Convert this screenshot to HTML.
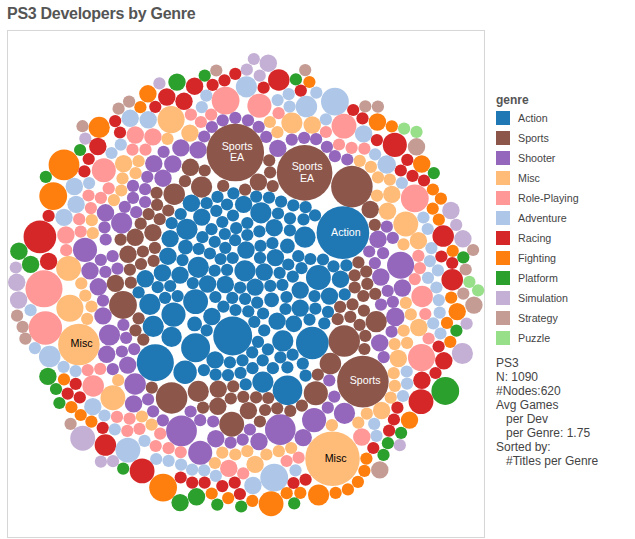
<!DOCTYPE html>
<html><head><meta charset="utf-8"><title>PS3 Developers by Genre</title>
<style>
html,body{margin:0;padding:0;background:#fff;}
body{width:635px;height:539px;position:relative;overflow:hidden;font-family:"Liberation Sans",sans-serif;}
#title{position:absolute;left:7px;top:5px;font-size:16px;font-weight:bold;color:#555;letter-spacing:-0.28px;white-space:nowrap;}
#frame{position:absolute;left:7px;top:30px;width:476px;height:506px;border:1px solid #d6d6d6;box-sizing:content-box;}
svg{position:absolute;left:0;top:0;}
svg text{font-family:"Liberation Sans",sans-serif;font-size:10.7px;}
#lt{position:absolute;left:496px;top:93px;font-size:12px;font-weight:bold;color:#555;}
.sw{position:absolute;left:496px;width:14px;height:14px;}
.ll{position:absolute;left:518px;font-size:10.7px;color:#444;line-height:15px;white-space:nowrap;}
#info{position:absolute;left:496px;top:356px;font-size:12px;line-height:14px;color:#444;white-space:pre;}
</style></head><body>
<div id="title">PS3 Developers by Genre</div>
<div id="frame"></div>
<svg width="635" height="539" viewBox="0 0 635 539">
<g>
<circle cx="214.7" cy="241.8" r="6.1" fill="#1f77b4"/>
<circle cx="235.1" cy="240.2" r="6.1" fill="#1f77b4"/>
<circle cx="185.1" cy="372.2" r="11.7" fill="#1f77b4"/>
<circle cx="99.2" cy="127.4" r="10.6" fill="#ff7f0e"/>
<circle cx="82.5" cy="126.2" r="6.1" fill="#c49c94"/>
<circle cx="85.3" cy="138.6" r="6.1" fill="#c5b0d5"/>
<circle cx="103.8" cy="170.2" r="12.0" fill="#ff9896"/>
<circle cx="280.3" cy="429.6" r="15.3" fill="#9467bd"/>
<circle cx="452.2" cy="279.7" r="10.8" fill="#d62728"/>
<circle cx="290.3" cy="410.9" r="6.1" fill="#8c564b"/>
<circle cx="198.1" cy="149.9" r="8.7" fill="#9467bd"/>
<circle cx="177.0" cy="82.1" r="8.72" fill="#2ca02c"/>
<circle cx="159.4" cy="83.4" r="6.12" fill="#c5b0d5"/>
<circle cx="147.9" cy="93.8" r="8.72" fill="#ff7f0e"/>
<circle cx="166.8" cy="97.0" r="8.72" fill="#d62728"/>
<circle cx="184.0" cy="101.3" r="8.72" fill="#d62728"/>
<circle cx="194.6" cy="86.2" r="8.72" fill="#d62728"/>
<circle cx="129.1" cy="101.6" r="6.12" fill="#c49c94"/>
<circle cx="118.6" cy="108.7" r="6.12" fill="#c49c94"/>
<circle cx="140.4" cy="107.2" r="6.12" fill="#ff7f0e"/>
<circle cx="155.3" cy="106.8" r="6.12" fill="#d62728"/>
<circle cx="130.2" cy="118.3" r="8.72" fill="#aec7e8"/>
<circle cx="148.2" cy="119.8" r="8.72" fill="#aec7e8"/>
<circle cx="171.1" cy="119.6" r="13.54" fill="#ffbb78"/>
<circle cx="115.2" cy="121.1" r="6.12" fill="#d62728"/>
<circle cx="120.0" cy="132.5" r="6.12" fill="#d62728"/>
<circle cx="135.3" cy="135.0" r="8.72" fill="#ff9896"/>
<circle cx="152.9" cy="136.9" r="8.72" fill="#ff9896"/>
<circle cx="190.9" cy="114.6" r="6.12" fill="#ff9896"/>
<circle cx="189.9" cy="133.1" r="8.72" fill="#ffbb78"/>
<circle cx="167.5" cy="138.8" r="6.12" fill="#ffbb78"/>
<circle cx="64.0" cy="164.9" r="15.4" fill="#ff7f0e"/>
<circle cx="80.1" cy="150.0" r="6.12" fill="#2ca02c"/>
<circle cx="45.8" cy="176.9" r="6.12" fill="#2ca02c"/>
<circle cx="88.7" cy="159.0" r="6.12" fill="#d62728"/>
<circle cx="84.4" cy="171.4" r="6.12" fill="#d62728"/>
<circle cx="97.8" cy="146.5" r="8.72" fill="#d62728"/>
<circle cx="53.2" cy="196.1" r="13.91" fill="#ff7f0e"/>
<circle cx="74.3" cy="186.5" r="8.72" fill="#aec7e8"/>
<circle cx="89.1" cy="183.1" r="6.12" fill="#aec7e8"/>
<circle cx="76.1" cy="204.4" r="8.72" fill="#aec7e8"/>
<circle cx="64.0" cy="217.4" r="8.72" fill="#aec7e8"/>
<circle cx="48.6" cy="215.9" r="6.12" fill="#d62728"/>
<circle cx="39.9" cy="236.9" r="16.33" fill="#d62728"/>
<circle cx="88.5" cy="195.5" r="6.12" fill="#ff9896"/>
<circle cx="90.9" cy="208.1" r="6.12" fill="#ff9896"/>
<circle cx="79.2" cy="219.2" r="6.12" fill="#ff9896"/>
<circle cx="91.8" cy="220.2" r="6.12" fill="#ffbb78"/>
<circle cx="65.9" cy="235.0" r="8.72" fill="#ff9896"/>
<circle cx="80.7" cy="231.7" r="6.12" fill="#ff9896"/>
<circle cx="92.8" cy="233.2" r="6.12" fill="#ffbb78"/>
<circle cx="120.8" cy="144.6" r="6.12" fill="#aec7e8"/>
<circle cx="111.5" cy="153.0" r="6.12" fill="#aec7e8"/>
<circle cx="132.5" cy="149.7" r="6.12" fill="#ff9896"/>
<circle cx="145.5" cy="149.7" r="6.12" fill="#ff9896"/>
<circle cx="123.6" cy="163.6" r="8.72" fill="#ffbb78"/>
<circle cx="138.6" cy="161.2" r="6.12" fill="#ffbb78"/>
<circle cx="135.6" cy="173.2" r="6.12" fill="#ffbb78"/>
<circle cx="122.5" cy="178.3" r="6.12" fill="#ffbb78"/>
<circle cx="121.3" cy="190.5" r="6.12" fill="#ffbb78"/>
<circle cx="113.9" cy="200.1" r="6.12" fill="#ffbb78"/>
<circle cx="108.7" cy="188.3" r="6.12" fill="#ff9896"/>
<circle cx="100.9" cy="197.9" r="6.12" fill="#ff9896"/>
<circle cx="163.6" cy="151.9" r="6.12" fill="#9467bd"/>
<circle cx="180.9" cy="147.9" r="8.72" fill="#9467bd"/>
<circle cx="153.8" cy="163.6" r="8.72" fill="#9467bd"/>
<circle cx="172.8" cy="164.0" r="8.72" fill="#9467bd"/>
<circle cx="147.3" cy="176.9" r="6.12" fill="#9467bd"/>
<circle cx="163.0" cy="178.2" r="8.72" fill="#9467bd"/>
<circle cx="133.0" cy="185.9" r="6.12" fill="#9467bd"/>
<circle cx="145.1" cy="189.2" r="6.12" fill="#9467bd"/>
<circle cx="133.0" cy="197.9" r="6.12" fill="#9467bd"/>
<circle cx="145.1" cy="202.0" r="6.12" fill="#9467bd"/>
<circle cx="124.8" cy="206.8" r="6.12" fill="#9467bd"/>
<circle cx="136.2" cy="212.2" r="6.12" fill="#9467bd"/>
<circle cx="105.5" cy="212.8" r="8.72" fill="#9467bd"/>
<circle cx="121.7" cy="223.1" r="10.58" fill="#9467bd"/>
<circle cx="104.5" cy="227.4" r="6.12" fill="#9467bd"/>
<circle cx="105.7" cy="239.5" r="6.12" fill="#9467bd"/>
<circle cx="190.4" cy="167.3" r="8.72" fill="#8c564b"/>
<circle cx="185.0" cy="181.2" r="6.12" fill="#8c564b"/>
<circle cx="156.6" cy="192.8" r="6.12" fill="#8c564b"/>
<circle cx="174.2" cy="194.2" r="10.76" fill="#8c564b"/>
<circle cx="157.1" cy="204.9" r="6.12" fill="#8c564b"/>
<circle cx="168.3" cy="210.5" r="6.12" fill="#8c564b"/>
<circle cx="148.6" cy="214.1" r="6.12" fill="#8c564b"/>
<circle cx="159.7" cy="219.2" r="6.12" fill="#8c564b"/>
<circle cx="140.7" cy="223.7" r="6.12" fill="#8c564b"/>
<circle cx="152.9" cy="232.6" r="8.72" fill="#8c564b"/>
<circle cx="135.2" cy="237.3" r="8.72" fill="#8c564b"/>
<circle cx="191.4" cy="203.2" r="8.72" fill="#1f77b4"/>
<circle cx="180.7" cy="214.0" r="6.12" fill="#1f77b4"/>
<circle cx="171.7" cy="223.2" r="6.12" fill="#1f77b4"/>
<circle cx="187.0" cy="229.3" r="10.58" fill="#1f77b4"/>
<circle cx="201.8" cy="217.1" r="8.72" fill="#1f77b4"/>
<circle cx="170.1" cy="238.6" r="8.72" fill="#1f77b4"/>
<circle cx="253.8" cy="59.0" r="6.12" fill="#c5b0d5"/>
<circle cx="268.3" cy="63.2" r="8.72" fill="#c5b0d5"/>
<circle cx="246.8" cy="69.7" r="6.12" fill="#c5b0d5"/>
<circle cx="259.7" cy="75.7" r="6.12" fill="#c5b0d5"/>
<circle cx="216.3" cy="70.5" r="6.12" fill="#c49c94"/>
<circle cx="204.7" cy="75.6" r="6.12" fill="#2ca02c"/>
<circle cx="235.3" cy="73.8" r="6.12" fill="#d62728"/>
<circle cx="224.5" cy="80.3" r="6.12" fill="#d62728"/>
<circle cx="212.6" cy="84.9" r="6.12" fill="#d62728"/>
<circle cx="278.8" cy="79.9" r="10.76" fill="#d62728"/>
<circle cx="263.6" cy="87.7" r="6.12" fill="#d62728"/>
<circle cx="295.9" cy="79.4" r="6.12" fill="#2ca02c"/>
<circle cx="246.4" cy="86.8" r="10.58" fill="#aec7e8"/>
<circle cx="206.3" cy="95.6" r="6.12" fill="#aec7e8"/>
<circle cx="201.8" cy="107.1" r="6.12" fill="#aec7e8"/>
<circle cx="225.6" cy="100.6" r="13.91" fill="#ff9896"/>
<circle cx="259.4" cy="105.7" r="12.06" fill="#ff9896"/>
<circle cx="288.7" cy="94.2" r="6.12" fill="#aec7e8"/>
<circle cx="277.6" cy="100.1" r="6.12" fill="#aec7e8"/>
<circle cx="289.6" cy="106.6" r="6.12" fill="#aec7e8"/>
<circle cx="278.6" cy="113.2" r="6.12" fill="#ff9896"/>
<circle cx="211.2" cy="114.7" r="6.12" fill="#ff9896"/>
<circle cx="200.9" cy="122.0" r="6.12" fill="#ff9896"/>
<circle cx="235.3" cy="117.9" r="6.12" fill="#9467bd"/>
<circle cx="222.7" cy="120.3" r="6.12" fill="#9467bd"/>
<circle cx="248.0" cy="120.3" r="6.12" fill="#9467bd"/>
<circle cx="211.9" cy="127.0" r="6.12" fill="#9467bd"/>
<circle cx="258.7" cy="126.9" r="6.12" fill="#9467bd"/>
<circle cx="204.2" cy="136.5" r="6.12" fill="#9467bd"/>
<circle cx="266.2" cy="136.8" r="6.12" fill="#9467bd"/>
<circle cx="269.9" cy="122.0" r="6.12" fill="#ffbb78"/>
<circle cx="291.9" cy="123.0" r="10.58" fill="#ffbb78"/>
<circle cx="277.4" cy="132.2" r="6.12" fill="#ffbb78"/>
<circle cx="291.8" cy="139.6" r="6.12" fill="#9467bd"/>
<circle cx="305.2" cy="70.1" r="6.12" fill="#c49c94"/>
<circle cx="309.4" cy="82.0" r="6.12" fill="#ff7f0e"/>
<circle cx="300.8" cy="90.6" r="6.12" fill="#d62728"/>
<circle cx="316.3" cy="92.7" r="6.12" fill="#aec7e8"/>
<circle cx="334.9" cy="101.6" r="13.91" fill="#aec7e8"/>
<circle cx="306.4" cy="106.6" r="10.76" fill="#aec7e8"/>
<circle cx="353.2" cy="110.0" r="6.12" fill="#d62728"/>
<circle cx="365.3" cy="106.3" r="6.12" fill="#c49c94"/>
<circle cx="377.9" cy="106.6" r="6.12" fill="#c49c94"/>
<circle cx="362.5" cy="118.3" r="6.12" fill="#d62728"/>
<circle cx="377.4" cy="122.0" r="8.72" fill="#ff7f0e"/>
<circle cx="391.8" cy="126.3" r="6.12" fill="#ff7f0e"/>
<circle cx="325.9" cy="119.3" r="6.12" fill="#aec7e8"/>
<circle cx="344.0" cy="126.1" r="12.43" fill="#ff9896"/>
<circle cx="312.2" cy="125.0" r="8.72" fill="#ffbb78"/>
<circle cx="325.9" cy="132.0" r="6.12" fill="#ff9896"/>
<circle cx="363.6" cy="133.9" r="8.72" fill="#aec7e8"/>
<circle cx="304.1" cy="137.8" r="6.12" fill="#9467bd"/>
<circle cx="316.1" cy="139.2" r="6.12" fill="#9467bd"/>
<circle cx="376.9" cy="140.1" r="6.12" fill="#d62728"/>
<circle cx="404.1" cy="128.6" r="6.12" fill="#98df8a"/>
<circle cx="416.5" cy="131.9" r="6.12" fill="#98df8a"/>
<circle cx="394.8" cy="144.9" r="12.06" fill="#d62728"/>
<circle cx="416.5" cy="146.8" r="8.72" fill="#c49c94"/>
<circle cx="407.3" cy="159.8" r="6.12" fill="#d62728"/>
<circle cx="421.7" cy="164.0" r="8.72" fill="#ff7f0e"/>
<circle cx="433.8" cy="173.1" r="6.12" fill="#2ca02c"/>
<circle cx="400.8" cy="170.5" r="6.12" fill="#d62728"/>
<circle cx="412.5" cy="175.9" r="6.12" fill="#d62728"/>
<circle cx="424.0" cy="180.5" r="6.12" fill="#d62728"/>
<circle cx="432.9" cy="189.5" r="6.12" fill="#ff7f0e"/>
<circle cx="440.9" cy="198.7" r="6.12" fill="#ff7f0e"/>
<circle cx="386.7" cy="164.5" r="9.28" fill="#aec7e8"/>
<circle cx="401.9" cy="183.0" r="6.12" fill="#aec7e8"/>
<circle cx="389.8" cy="179.6" r="6.12" fill="#ffbb78"/>
<circle cx="378.0" cy="177.3" r="6.12" fill="#ffbb78"/>
<circle cx="391.8" cy="194.4" r="8.72" fill="#ffbb78"/>
<circle cx="414.8" cy="198.4" r="13.91" fill="#ff9896"/>
<circle cx="235.3" cy="152.6" r="28.76" fill="#8c564b"/>
<circle cx="277.8" cy="148.4" r="8.72" fill="#9467bd"/>
<circle cx="269.2" cy="160.3" r="6.12" fill="#8c564b"/>
<circle cx="270.1" cy="172.3" r="6.12" fill="#8c564b"/>
<circle cx="272.7" cy="186.1" r="6.12" fill="#8c564b"/>
<circle cx="258.4" cy="182.1" r="8.72" fill="#8c564b"/>
<circle cx="245.1" cy="189.6" r="6.12" fill="#8c564b"/>
<circle cx="223.2" cy="185.9" r="6.12" fill="#8c564b"/>
<circle cx="204.7" cy="170.5" r="6.12" fill="#8c564b"/>
<circle cx="201.6" cy="187.1" r="10.58" fill="#8c564b"/>
<circle cx="233.4" cy="193.3" r="6.12" fill="#1f77b4"/>
<circle cx="217.5" cy="196.9" r="6.12" fill="#1f77b4"/>
<circle cx="256.2" cy="196.6" r="6.12" fill="#1f77b4"/>
<circle cx="269.0" cy="197.6" r="6.12" fill="#1f77b4"/>
<circle cx="281.1" cy="201.6" r="6.12" fill="#1f77b4"/>
<circle cx="293.3" cy="205.3" r="6.12" fill="#1f77b4"/>
<circle cx="243.6" cy="204.4" r="8.72" fill="#1f77b4"/>
<circle cx="227.0" cy="204.5" r="6.12" fill="#1f77b4"/>
<circle cx="206.6" cy="203.2" r="6.12" fill="#1f77b4"/>
<circle cx="216.3" cy="210.9" r="6.12" fill="#1f77b4"/>
<circle cx="233.0" cy="215.5" r="6.12" fill="#1f77b4"/>
<circle cx="260.9" cy="212.8" r="10.58" fill="#1f77b4"/>
<circle cx="278.0" cy="213.5" r="6.12" fill="#1f77b4"/>
<circle cx="290.0" cy="218.3" r="6.12" fill="#1f77b4"/>
<circle cx="222.3" cy="222.0" r="6.12" fill="#1f77b4"/>
<circle cx="247.3" cy="223.0" r="6.12" fill="#1f77b4"/>
<circle cx="211.5" cy="229.2" r="6.12" fill="#1f77b4"/>
<circle cx="236.2" cy="228.2" r="6.12" fill="#1f77b4"/>
<circle cx="274.2" cy="227.7" r="8.72" fill="#1f77b4"/>
<circle cx="259.4" cy="231.3" r="6.12" fill="#1f77b4"/>
<circle cx="289.9" cy="230.4" r="6.12" fill="#1f77b4"/>
<circle cx="224.8" cy="234.0" r="6.12" fill="#1f77b4"/>
<circle cx="247.3" cy="235.0" r="6.12" fill="#1f77b4"/>
<circle cx="202.4" cy="237.2" r="6.12" fill="#1f77b4"/>
<circle cx="304.6" cy="172.9" r="27.83" fill="#8c564b"/>
<circle cx="351.9" cy="186.6" r="20.78" fill="#8c564b"/>
<circle cx="370.2" cy="209.5" r="8.72" fill="#8c564b"/>
<circle cx="374.8" cy="224.8" r="6.12" fill="#8c564b"/>
<circle cx="326.9" cy="146.9" r="6.12" fill="#9467bd"/>
<circle cx="334.9" cy="156.2" r="6.12" fill="#9467bd"/>
<circle cx="347.3" cy="159.5" r="6.12" fill="#9467bd"/>
<circle cx="339.0" cy="144.5" r="6.12" fill="#ff9896"/>
<circle cx="351.6" cy="147.8" r="6.12" fill="#ff9896"/>
<circle cx="364.4" cy="148.7" r="6.12" fill="#ff9896"/>
<circle cx="375.1" cy="154.3" r="6.12" fill="#aec7e8"/>
<circle cx="359.7" cy="160.8" r="6.12" fill="#ffbb78"/>
<circle cx="370.9" cy="166.9" r="6.12" fill="#ffbb78"/>
<circle cx="377.0" cy="195.7" r="6.12" fill="#ffbb78"/>
<circle cx="387.5" cy="211.1" r="8.72" fill="#ffbb78"/>
<circle cx="386.8" cy="226.7" r="6.12" fill="#9467bd"/>
<circle cx="392.8" cy="237.9" r="6.12" fill="#9467bd"/>
<circle cx="305.6" cy="207.2" r="6.12" fill="#1f77b4"/>
<circle cx="315.0" cy="215.4" r="6.12" fill="#1f77b4"/>
<circle cx="303.5" cy="219.3" r="6.12" fill="#1f77b4"/>
<circle cx="432.7" cy="208.6" r="6.12" fill="#ff7f0e"/>
<circle cx="438.8" cy="219.7" r="6.12" fill="#ff7f0e"/>
<circle cx="450.9" cy="210.5" r="8.72" fill="#c5b0d5"/>
<circle cx="456.2" cy="224.9" r="6.12" fill="#c5b0d5"/>
<circle cx="462.9" cy="238.8" r="8.72" fill="#c5b0d5"/>
<circle cx="473.1" cy="250.0" r="6.12" fill="#c49c94"/>
<circle cx="443.2" cy="236.1" r="10.76" fill="#d62728"/>
<circle cx="452.7" cy="250.9" r="6.12" fill="#ff7f0e"/>
<circle cx="463.3" cy="257.4" r="6.12" fill="#2ca02c"/>
<circle cx="465.7" cy="269.5" r="6.12" fill="#c49c94"/>
<circle cx="441.4" cy="256.5" r="6.12" fill="#d62728"/>
<circle cx="452.2" cy="263.0" r="6.12" fill="#d62728"/>
<circle cx="405.8" cy="224.0" r="12.43" fill="#ffbb78"/>
<circle cx="418.4" cy="240.7" r="8.72" fill="#ffbb78"/>
<circle cx="403.5" cy="244.4" r="6.12" fill="#ffbb78"/>
<circle cx="423.4" cy="217.5" r="6.12" fill="#aec7e8"/>
<circle cx="427.7" cy="229.0" r="6.12" fill="#aec7e8"/>
<circle cx="431.4" cy="248.1" r="6.12" fill="#aec7e8"/>
<circle cx="429.9" cy="261.1" r="6.12" fill="#aec7e8"/>
<circle cx="437.9" cy="270.4" r="6.12" fill="#aec7e8"/>
<circle cx="428.0" cy="277.8" r="6.12" fill="#aec7e8"/>
<circle cx="418.4" cy="255.9" r="6.12" fill="#ff9896"/>
<circle cx="419.9" cy="268.1" r="6.12" fill="#ff9896"/>
<circle cx="414.8" cy="279.1" r="6.12" fill="#ff9896"/>
<circle cx="400.6" cy="265.2" r="13.54" fill="#9467bd"/>
<circle cx="469.4" cy="281.9" r="6.12" fill="#98df8a"/>
<circle cx="478.1" cy="290.3" r="6.12" fill="#98df8a"/>
<circle cx="463.3" cy="293.6" r="6.12" fill="#c49c94"/>
<circle cx="473.9" cy="305.1" r="8.72" fill="#c49c94"/>
<circle cx="451.2" cy="297.7" r="6.12" fill="#ff7f0e"/>
<circle cx="457.2" cy="311.6" r="8.72" fill="#ff7f0e"/>
<circle cx="447.0" cy="322.9" r="6.12" fill="#ff7f0e"/>
<circle cx="466.6" cy="323.6" r="6.12" fill="#c5b0d5"/>
<circle cx="456.4" cy="330.7" r="6.12" fill="#2ca02c"/>
<circle cx="450.3" cy="341.8" r="6.12" fill="#ff7f0e"/>
<circle cx="462.4" cy="353.5" r="10.58" fill="#c5b0d5"/>
<circle cx="438.6" cy="346.5" r="6.12" fill="#d62728"/>
<circle cx="443.8" cy="360.8" r="8.72" fill="#d62728"/>
<circle cx="436.4" cy="287.5" r="6.12" fill="#aec7e8"/>
<circle cx="438.8" cy="300.1" r="6.12" fill="#aec7e8"/>
<circle cx="439.7" cy="312.7" r="6.12" fill="#aec7e8"/>
<circle cx="433.2" cy="323.3" r="6.12" fill="#aec7e8"/>
<circle cx="440.5" cy="333.5" r="6.12" fill="#aec7e8"/>
<circle cx="422.1" cy="296.4" r="10.76" fill="#ff9896"/>
<circle cx="425.3" cy="314.0" r="6.12" fill="#ff9896"/>
<circle cx="428.6" cy="338.5" r="6.12" fill="#ff9896"/>
<circle cx="421.5" cy="357.6" r="13.54" fill="#ff9896"/>
<circle cx="402.4" cy="288.0" r="8.72" fill="#9467bd"/>
<circle cx="392.9" cy="301.9" r="6.12" fill="#9467bd"/>
<circle cx="395.3" cy="316.9" r="9.28" fill="#9467bd"/>
<circle cx="391.6" cy="331.7" r="6.12" fill="#9467bd"/>
<circle cx="405.8" cy="302.9" r="6.12" fill="#ffbb78"/>
<circle cx="410.8" cy="314.4" r="6.12" fill="#ffbb78"/>
<circle cx="418.8" cy="327.5" r="8.72" fill="#ffbb78"/>
<circle cx="403.7" cy="330.7" r="6.12" fill="#ffbb78"/>
<circle cx="407.1" cy="342.8" r="6.12" fill="#ffbb78"/>
<circle cx="394.6" cy="344.1" r="6.12" fill="#ffbb78"/>
<circle cx="398.3" cy="358.5" r="8.72" fill="#ffbb78"/>
<circle cx="445.3" cy="391.0" r="13.91" fill="#2ca02c"/>
<circle cx="435.5" cy="373.0" r="6.12" fill="#d62728"/>
<circle cx="421.9" cy="380.3" r="8.72" fill="#d62728"/>
<circle cx="421.0" cy="401.6" r="12.43" fill="#d62728"/>
<circle cx="397.4" cy="407.7" r="6.12" fill="#d62728"/>
<circle cx="393.9" cy="419.5" r="6.12" fill="#d62728"/>
<circle cx="389.1" cy="430.6" r="6.12" fill="#d62728"/>
<circle cx="409.5" cy="420.1" r="8.72" fill="#ff7f0e"/>
<circle cx="401.1" cy="432.8" r="6.12" fill="#2ca02c"/>
<circle cx="387.9" cy="443.2" r="6.12" fill="#2ca02c"/>
<circle cx="399.8" cy="445.2" r="6.12" fill="#c5b0d5"/>
<circle cx="406.7" cy="371.5" r="6.12" fill="#aec7e8"/>
<circle cx="407.1" cy="383.6" r="6.12" fill="#aec7e8"/>
<circle cx="403.0" cy="396.0" r="6.12" fill="#aec7e8"/>
<circle cx="393.7" cy="373.2" r="6.12" fill="#ffbb78"/>
<circle cx="394.8" cy="385.8" r="6.12" fill="#ffbb78"/>
<circle cx="390.7" cy="397.6" r="6.12" fill="#ffbb78"/>
<circle cx="362.9" cy="381.6" r="25.79" fill="#8c564b"/>
<circle cx="344.2" cy="341.1" r="15.77" fill="#8c564b"/>
<circle cx="364.4" cy="349.0" r="6.12" fill="#8c564b"/>
<circle cx="330.4" cy="363.6" r="10.76" fill="#8c564b"/>
<circle cx="317.8" cy="374.6" r="6.12" fill="#8c564b"/>
<circle cx="315.8" cy="393.3" r="12.06" fill="#8c564b"/>
<circle cx="301.9" cy="405.7" r="6.12" fill="#8c564b"/>
<circle cx="302.8" cy="363.6" r="6.12" fill="#1f77b4"/>
<circle cx="305.6" cy="375.7" r="6.12" fill="#1f77b4"/>
<circle cx="379.7" cy="342.9" r="8.72" fill="#9467bd"/>
<circle cx="383.7" cy="357.1" r="6.12" fill="#9467bd"/>
<circle cx="329.3" cy="380.3" r="6.12" fill="#9467bd"/>
<circle cx="334.3" cy="396.6" r="6.12" fill="#9467bd"/>
<circle cx="327.8" cy="407.7" r="6.12" fill="#9467bd"/>
<circle cx="344.5" cy="413.3" r="10.58" fill="#9467bd"/>
<circle cx="314.1" cy="420.1" r="12.06" fill="#9467bd"/>
<circle cx="303.2" cy="437.6" r="8.72" fill="#9467bd"/>
<circle cx="381.6" cy="410.5" r="8.72" fill="#ffbb78"/>
<circle cx="366.8" cy="413.7" r="6.12" fill="#ffbb78"/>
<circle cx="358.3" cy="422.7" r="6.12" fill="#ffbb78"/>
<circle cx="331.9" cy="425.2" r="6.12" fill="#ffbb78"/>
<circle cx="374.2" cy="423.9" r="6.12" fill="#aec7e8"/>
<circle cx="376.5" cy="435.9" r="6.12" fill="#aec7e8"/>
<circle cx="361.8" cy="437.0" r="8.72" fill="#ff9896"/>
<circle cx="332.5" cy="458.8" r="27.27" fill="#ffbb78"/>
<circle cx="366.4" cy="458.6" r="6.12" fill="#ff7f0e"/>
<circle cx="364.4" cy="470.8" r="6.12" fill="#ff7f0e"/>
<circle cx="357.9" cy="481.8" r="6.12" fill="#ff7f0e"/>
<circle cx="347.9" cy="489.4" r="6.12" fill="#ff7f0e"/>
<circle cx="335.6" cy="492.9" r="6.12" fill="#ff7f0e"/>
<circle cx="318.6" cy="495.0" r="10.58" fill="#ff7f0e"/>
<circle cx="300.3" cy="492.9" r="6.12" fill="#ff7f0e"/>
<circle cx="305.6" cy="479.6" r="6.12" fill="#d62728"/>
<circle cx="373.3" cy="448.0" r="6.12" fill="#d62728"/>
<circle cx="383.5" cy="454.9" r="6.12" fill="#2ca02c"/>
<circle cx="379.8" cy="469.9" r="8.72" fill="#c49c94"/>
<circle cx="215.8" cy="438.7" r="8.72" fill="#9467bd"/>
<circle cx="230.6" cy="442.6" r="6.12" fill="#9467bd"/>
<circle cx="242.7" cy="439.7" r="6.12" fill="#9467bd"/>
<circle cx="249.9" cy="429.5" r="6.12" fill="#9467bd"/>
<circle cx="259.0" cy="441.5" r="8.72" fill="#9467bd"/>
<circle cx="222.3" cy="452.7" r="6.12" fill="#ffbb78"/>
<circle cx="235.3" cy="454.5" r="6.12" fill="#ffbb78"/>
<circle cx="247.3" cy="451.2" r="6.12" fill="#ffbb78"/>
<circle cx="266.4" cy="454.5" r="6.12" fill="#ffbb78"/>
<circle cx="278.8" cy="451.2" r="6.12" fill="#ffbb78"/>
<circle cx="291.2" cy="448.0" r="6.12" fill="#ffbb78"/>
<circle cx="214.9" cy="463.0" r="6.12" fill="#ffbb78"/>
<circle cx="255.1" cy="464.4" r="8.72" fill="#ffbb78"/>
<circle cx="286.6" cy="461.0" r="6.12" fill="#ff9896"/>
<circle cx="298.6" cy="457.7" r="6.12" fill="#ff9896"/>
<circle cx="228.8" cy="468.4" r="8.72" fill="#ff9896"/>
<circle cx="243.2" cy="473.4" r="6.12" fill="#ff9896"/>
<circle cx="204.2" cy="470.3" r="6.12" fill="#aec7e8"/>
<circle cx="215.8" cy="475.9" r="6.12" fill="#aec7e8"/>
<circle cx="252.9" cy="485.5" r="8.72" fill="#aec7e8"/>
<circle cx="274.2" cy="477.7" r="13.91" fill="#aec7e8"/>
<circle cx="295.5" cy="470.3" r="6.12" fill="#aec7e8"/>
<circle cx="204.6" cy="482.7" r="6.12" fill="#d62728"/>
<circle cx="222.3" cy="486.1" r="6.12" fill="#d62728"/>
<circle cx="234.7" cy="482.7" r="6.12" fill="#d62728"/>
<circle cx="239.9" cy="494.0" r="6.12" fill="#d62728"/>
<circle cx="293.5" cy="483.0" r="6.12" fill="#d62728"/>
<circle cx="211.7" cy="493.5" r="6.12" fill="#ff7f0e"/>
<circle cx="228.2" cy="498.1" r="6.12" fill="#ff7f0e"/>
<circle cx="252.3" cy="500.9" r="6.12" fill="#ff7f0e"/>
<circle cx="271.1" cy="503.7" r="12.43" fill="#ff7f0e"/>
<circle cx="286.7" cy="493.2" r="6.12" fill="#ff7f0e"/>
<circle cx="217.3" cy="504.6" r="6.12" fill="#2ca02c"/>
<circle cx="241.2" cy="506.5" r="6.12" fill="#2ca02c"/>
<circle cx="294.2" cy="503.3" r="6.12" fill="#2ca02c"/>
<circle cx="181.5" cy="430.8" r="15.4" fill="#9467bd"/>
<circle cx="200.2" cy="452.7" r="12.06" fill="#9467bd"/>
<circle cx="162.9" cy="420.3" r="6.12" fill="#9467bd"/>
<circle cx="102.7" cy="427.8" r="6.12" fill="#d62728"/>
<circle cx="105.4" cy="445.1" r="10.76" fill="#d62728"/>
<circle cx="114.8" cy="429.3" r="6.12" fill="#aec7e8"/>
<circle cx="127.9" cy="450.1" r="12.43" fill="#aec7e8"/>
<circle cx="144.5" cy="440.8" r="6.12" fill="#aec7e8"/>
<circle cx="156.2" cy="459.0" r="6.12" fill="#aec7e8"/>
<circle cx="168.6" cy="460.8" r="6.12" fill="#aec7e8"/>
<circle cx="181.1" cy="464.6" r="6.12" fill="#aec7e8"/>
<circle cx="192.1" cy="469.6" r="6.12" fill="#aec7e8"/>
<circle cx="127.3" cy="430.9" r="6.12" fill="#ff9896"/>
<circle cx="139.5" cy="428.8" r="6.12" fill="#ff9896"/>
<circle cx="160.2" cy="433.7" r="6.12" fill="#ff9896"/>
<circle cx="155.7" cy="446.0" r="6.12" fill="#ff9896"/>
<circle cx="168.6" cy="448.2" r="6.12" fill="#ff9896"/>
<circle cx="180.7" cy="452.1" r="6.12" fill="#ff9896"/>
<circle cx="151.6" cy="424.7" r="6.12" fill="#ffbb78"/>
<circle cx="100.9" cy="461.6" r="6.12" fill="#c5b0d5"/>
<circle cx="113.0" cy="461.2" r="6.12" fill="#c5b0d5"/>
<circle cx="123.2" cy="468.6" r="6.12" fill="#2ca02c"/>
<circle cx="142.1" cy="470.9" r="12.43" fill="#d62728"/>
<circle cx="163.1" cy="487.6" r="13.91" fill="#ff7f0e"/>
<circle cx="180.7" cy="477.5" r="6.12" fill="#d62728"/>
<circle cx="192.2" cy="482.6" r="6.12" fill="#d62728"/>
<circle cx="180.1" cy="502.6" r="8.72" fill="#2ca02c"/>
<circle cx="196.5" cy="496.8" r="8.72" fill="#2ca02c"/>
<circle cx="18.9" cy="251.2" r="8.72" fill="#2ca02c"/>
<circle cx="30.6" cy="264.4" r="8.72" fill="#2ca02c"/>
<circle cx="48.6" cy="261.4" r="8.72" fill="#d62728"/>
<circle cx="15.8" cy="267.5" r="6.12" fill="#c5b0d5"/>
<circle cx="16.7" cy="282.3" r="8.72" fill="#c5b0d5"/>
<circle cx="18.6" cy="300.0" r="8.72" fill="#c5b0d5"/>
<circle cx="17.1" cy="315.7" r="6.12" fill="#c49c94"/>
<circle cx="22.6" cy="326.9" r="6.12" fill="#c49c94"/>
<circle cx="30.6" cy="310.2" r="6.12" fill="#aec7e8"/>
<circle cx="44.0" cy="288.8" r="18.55" fill="#ff9896"/>
<circle cx="66.2" cy="250.2" r="6.12" fill="#ff9896"/>
<circle cx="68.6" cy="268.4" r="12.43" fill="#ffbb78"/>
<circle cx="81.3" cy="283.3" r="6.12" fill="#ffbb78"/>
<circle cx="85.3" cy="295.7" r="6.12" fill="#ffbb78"/>
<circle cx="91.5" cy="306.5" r="6.12" fill="#ffbb78"/>
<circle cx="87.2" cy="318.9" r="6.12" fill="#ffbb78"/>
<circle cx="69.9" cy="308.3" r="13.54" fill="#ffbb78"/>
<circle cx="85.0" cy="249.9" r="12.06" fill="#9467bd"/>
<circle cx="90.0" cy="270.8" r="8.72" fill="#9467bd"/>
<circle cx="45.4" cy="328.0" r="16.7" fill="#ff9896"/>
<circle cx="78.9" cy="344.5" r="20.78" fill="#ffbb78"/>
<circle cx="25.4" cy="338.7" r="6.12" fill="#c49c94"/>
<circle cx="34.9" cy="348.1" r="6.12" fill="#aec7e8"/>
<circle cx="49.7" cy="356.6" r="10.76" fill="#aec7e8"/>
<circle cx="63.6" cy="366.8" r="6.12" fill="#aec7e8"/>
<circle cx="75.6" cy="371.1" r="6.12" fill="#aec7e8"/>
<circle cx="87.7" cy="370.1" r="6.12" fill="#ff9896"/>
<circle cx="47.9" cy="376.4" r="8.72" fill="#2ca02c"/>
<circle cx="56.0" cy="389.0" r="6.12" fill="#2ca02c"/>
<circle cx="59.4" cy="403.0" r="6.12" fill="#2ca02c"/>
<circle cx="64.0" cy="379.4" r="6.12" fill="#ff7f0e"/>
<circle cx="71.4" cy="407.2" r="6.12" fill="#ff7f0e"/>
<circle cx="80.7" cy="415.0" r="6.12" fill="#ff7f0e"/>
<circle cx="75.7" cy="383.9" r="6.12" fill="#d62728"/>
<circle cx="67.7" cy="393.7" r="6.12" fill="#d62728"/>
<circle cx="79.8" cy="397.4" r="6.12" fill="#d62728"/>
<circle cx="92.8" cy="406.7" r="8.72" fill="#aec7e8"/>
<circle cx="91.4" cy="421.6" r="6.12" fill="#ff7f0e"/>
<circle cx="70.6" cy="423.8" r="6.12" fill="#c49c94"/>
<circle cx="82.7" cy="438.3" r="12.43" fill="#c5b0d5"/>
<circle cx="104.5" cy="415.5" r="6.12" fill="#aec7e8"/>
<circle cx="117.0" cy="416.9" r="6.12" fill="#ff9896"/>
<circle cx="129.6" cy="418.6" r="6.12" fill="#ff9896"/>
<circle cx="112.9" cy="397.8" r="12.43" fill="#ffbb78"/>
<circle cx="133.6" cy="403.9" r="8.72" fill="#9467bd"/>
<circle cx="155.3" cy="362.7" r="18.55" fill="#1f77b4"/>
<circle cx="151.8" cy="387.7" r="6.12" fill="#8c564b"/>
<circle cx="171.6" cy="397.9" r="15.77" fill="#8c564b"/>
<circle cx="106.7" cy="354.3" r="8.72" fill="#9467bd"/>
<circle cx="121.9" cy="351.5" r="6.12" fill="#9467bd"/>
<circle cx="134.2" cy="349.1" r="6.12" fill="#9467bd"/>
<circle cx="127.7" cy="365.1" r="8.72" fill="#9467bd"/>
<circle cx="112.8" cy="369.2" r="6.12" fill="#9467bd"/>
<circle cx="135.1" cy="384.0" r="10.76" fill="#9467bd"/>
<circle cx="148.1" cy="399.4" r="6.12" fill="#9467bd"/>
<circle cx="153.1" cy="411.3" r="6.12" fill="#9467bd"/>
<circle cx="100.2" cy="368.8" r="6.12" fill="#ff9896"/>
<circle cx="93.2" cy="385.9" r="10.76" fill="#ff9896"/>
<circle cx="118.2" cy="380.2" r="6.12" fill="#ffbb78"/>
<circle cx="141.9" cy="416.5" r="6.12" fill="#ffbb78"/>
<circle cx="120.6" cy="239.6" r="6.12" fill="#8c564b"/>
<circle cx="128.0" cy="254.3" r="8.72" fill="#8c564b"/>
<circle cx="142.9" cy="251.5" r="6.12" fill="#8c564b"/>
<circle cx="154.9" cy="247.8" r="6.12" fill="#8c564b"/>
<circle cx="153.6" cy="260.8" r="6.12" fill="#8c564b"/>
<circle cx="141.0" cy="264.0" r="6.12" fill="#8c564b"/>
<circle cx="129.9" cy="269.7" r="6.12" fill="#8c564b"/>
<circle cx="115.4" cy="283.4" r="8.72" fill="#8c564b"/>
<circle cx="130.8" cy="282.7" r="6.12" fill="#8c564b"/>
<circle cx="123.0" cy="305.0" r="13.91" fill="#8c564b"/>
<circle cx="138.6" cy="318.3" r="6.12" fill="#8c564b"/>
<circle cx="135.5" cy="330.3" r="6.12" fill="#8c564b"/>
<circle cx="143.3" cy="339.6" r="6.12" fill="#8c564b"/>
<circle cx="100.8" cy="259.9" r="6.12" fill="#9467bd"/>
<circle cx="112.6" cy="256.2" r="6.12" fill="#9467bd"/>
<circle cx="117.5" cy="268.6" r="6.12" fill="#9467bd"/>
<circle cx="105.4" cy="271.9" r="6.12" fill="#9467bd"/>
<circle cx="98.3" cy="286.8" r="8.72" fill="#9467bd"/>
<circle cx="103.0" cy="300.7" r="6.12" fill="#9467bd"/>
<circle cx="103.0" cy="315.9" r="8.72" fill="#9467bd"/>
<circle cx="123.4" cy="324.9" r="6.12" fill="#9467bd"/>
<circle cx="109.5" cy="335.0" r="10.58" fill="#9467bd"/>
<circle cx="126.1" cy="337.9" r="6.12" fill="#9467bd"/>
<circle cx="185.5" cy="247.1" r="7.42" fill="#1f77b4"/>
<circle cx="167.9" cy="256.2" r="8.72" fill="#1f77b4"/>
<circle cx="182.5" cy="260.1" r="6.12" fill="#1f77b4"/>
<circle cx="145.3" cy="278.8" r="8.72" fill="#1f77b4"/>
<circle cx="162.4" cy="272.9" r="8.72" fill="#1f77b4"/>
<circle cx="180.0" cy="275.1" r="8.72" fill="#1f77b4"/>
<circle cx="138.6" cy="292.3" r="6.12" fill="#1f77b4"/>
<circle cx="157.7" cy="287.2" r="6.12" fill="#1f77b4"/>
<circle cx="170.2" cy="286.0" r="6.12" fill="#1f77b4"/>
<circle cx="165.1" cy="297.9" r="6.12" fill="#1f77b4"/>
<circle cx="177.6" cy="296.1" r="6.12" fill="#1f77b4"/>
<circle cx="149.9" cy="304.4" r="10.58" fill="#1f77b4"/>
<circle cx="173.5" cy="314.6" r="12.06" fill="#1f77b4"/>
<circle cx="153.3" cy="326.4" r="10.58" fill="#1f77b4"/>
<circle cx="171.6" cy="336.9" r="10.2" fill="#1f77b4"/>
<circle cx="215.1" cy="359.9" r="8.72" fill="#1f77b4"/>
<circle cx="195.6" cy="347.8" r="14.47" fill="#1f77b4"/>
<circle cx="292.6" cy="354.7" r="6.12" fill="#1f77b4"/>
<circle cx="203.9" cy="370.1" r="6.12" fill="#1f77b4"/>
<circle cx="215.6" cy="374.6" r="6.12" fill="#1f77b4"/>
<circle cx="229.9" cy="362.3" r="6.12" fill="#1f77b4"/>
<circle cx="228.0" cy="375.1" r="6.12" fill="#1f77b4"/>
<circle cx="242.5" cy="360.4" r="6.12" fill="#1f77b4"/>
<circle cx="240.5" cy="372.9" r="6.12" fill="#1f77b4"/>
<circle cx="252.2" cy="352.4" r="6.12" fill="#1f77b4"/>
<circle cx="252.5" cy="368.2" r="6.12" fill="#1f77b4"/>
<circle cx="262.7" cy="360.4" r="6.12" fill="#1f77b4"/>
<circle cx="267.9" cy="349.3" r="6.12" fill="#1f77b4"/>
<circle cx="258.0" cy="341.8" r="6.12" fill="#1f77b4"/>
<circle cx="272.9" cy="368.2" r="6.12" fill="#1f77b4"/>
<circle cx="280.4" cy="357.3" r="6.12" fill="#1f77b4"/>
<circle cx="287.4" cy="367.3" r="6.12" fill="#1f77b4"/>
<circle cx="245.7" cy="384.4" r="6.12" fill="#1f77b4"/>
<circle cx="262.9" cy="382.1" r="10.58" fill="#1f77b4"/>
<circle cx="287.5" cy="390.3" r="14.84" fill="#1f77b4"/>
<circle cx="198.3" cy="391.4" r="10.58" fill="#8c564b"/>
<circle cx="218.2" cy="389.1" r="8.72" fill="#8c564b"/>
<circle cx="233.2" cy="386.4" r="6.12" fill="#8c564b"/>
<circle cx="230.8" cy="398.5" r="6.12" fill="#8c564b"/>
<circle cx="243.3" cy="396.8" r="6.12" fill="#8c564b"/>
<circle cx="256.1" cy="397.4" r="6.12" fill="#8c564b"/>
<circle cx="268.2" cy="398.0" r="6.12" fill="#8c564b"/>
<circle cx="217.8" cy="406.3" r="8.72" fill="#8c564b"/>
<circle cx="203.0" cy="407.6" r="6.12" fill="#8c564b"/>
<circle cx="248.4" cy="410.6" r="8.72" fill="#8c564b"/>
<circle cx="265.1" cy="410.0" r="6.12" fill="#8c564b"/>
<circle cx="277.2" cy="408.3" r="6.12" fill="#8c564b"/>
<circle cx="231.7" cy="424.3" r="12.43" fill="#8c564b"/>
<circle cx="259.9" cy="421.5" r="6.12" fill="#8c564b"/>
<circle cx="190.6" cy="411.5" r="6.12" fill="#9467bd"/>
<circle cx="200.2" cy="420.2" r="6.12" fill="#9467bd"/>
<circle cx="213.2" cy="421.5" r="6.12" fill="#9467bd"/>
<circle cx="342.9" cy="232.7" r="26.35" fill="#1f77b4"/>
<circle cx="305.0" cy="237.2" r="10.58" fill="#1f77b4"/>
<circle cx="298.3" cy="256.2" r="6.12" fill="#1f77b4"/>
<circle cx="310.4" cy="259.0" r="6.12" fill="#1f77b4"/>
<circle cx="323.0" cy="259.5" r="6.12" fill="#1f77b4"/>
<circle cx="333.5" cy="266.3" r="6.12" fill="#1f77b4"/>
<circle cx="346.4" cy="265.4" r="6.12" fill="#1f77b4"/>
<circle cx="301.5" cy="268.2" r="6.12" fill="#1f77b4"/>
<circle cx="318.4" cy="277.5" r="12.43" fill="#1f77b4"/>
<circle cx="340.5" cy="279.2" r="8.72" fill="#1f77b4"/>
<circle cx="292.8" cy="276.6" r="6.12" fill="#1f77b4"/>
<circle cx="300.2" cy="290.1" r="8.72" fill="#1f77b4"/>
<circle cx="329.5" cy="296.1" r="8.72" fill="#1f77b4"/>
<circle cx="314.5" cy="296.1" r="6.12" fill="#1f77b4"/>
<circle cx="344.7" cy="294.4" r="6.12" fill="#1f77b4"/>
<circle cx="300.2" cy="308.1" r="8.72" fill="#1f77b4"/>
<circle cx="315.4" cy="308.7" r="6.12" fill="#1f77b4"/>
<circle cx="328.0" cy="311.8" r="6.12" fill="#1f77b4"/>
<circle cx="309.5" cy="319.6" r="6.12" fill="#1f77b4"/>
<circle cx="324.3" cy="323.3" r="6.12" fill="#1f77b4"/>
<circle cx="293.8" cy="323.9" r="8.35" fill="#1f77b4"/>
<circle cx="312.3" cy="343.0" r="16.33" fill="#1f77b4"/>
<circle cx="376.2" cy="321.7" r="10.58" fill="#8c564b"/>
<circle cx="365.3" cy="335.9" r="6.12" fill="#8c564b"/>
<circle cx="352.5" cy="304.4" r="6.12" fill="#8c564b"/>
<circle cx="340.1" cy="306.8" r="6.12" fill="#8c564b"/>
<circle cx="363.9" cy="310.6" r="6.12" fill="#8c564b"/>
<circle cx="350.3" cy="316.8" r="6.12" fill="#8c564b"/>
<circle cx="337.7" cy="319.2" r="6.12" fill="#8c564b"/>
<circle cx="359.6" cy="324.8" r="6.12" fill="#8c564b"/>
<circle cx="381.0" cy="304.6" r="6.12" fill="#9467bd"/>
<circle cx="378.0" cy="239.3" r="8.72" fill="#9467bd"/>
<circle cx="369.2" cy="251.5" r="6.12" fill="#9467bd"/>
<circle cx="383.1" cy="253.1" r="6.12" fill="#9467bd"/>
<circle cx="374.9" cy="263.1" r="6.12" fill="#9467bd"/>
<circle cx="380.8" cy="277.0" r="8.72" fill="#9467bd"/>
<circle cx="387.7" cy="290.9" r="6.12" fill="#9467bd"/>
<circle cx="358.4" cy="262.4" r="6.12" fill="#8c564b"/>
<circle cx="366.2" cy="271.7" r="6.12" fill="#8c564b"/>
<circle cx="354.6" cy="275.3" r="6.12" fill="#8c564b"/>
<circle cx="367.3" cy="283.9" r="6.12" fill="#8c564b"/>
<circle cx="354.7" cy="287.5" r="6.12" fill="#8c564b"/>
<circle cx="375.2" cy="293.9" r="6.12" fill="#8c564b"/>
<circle cx="363.3" cy="296.0" r="6.12" fill="#8c564b"/>
<circle cx="198.7" cy="248.8" r="6.12" fill="#1f77b4"/>
<circle cx="209.9" cy="253.5" r="6.12" fill="#1f77b4"/>
<circle cx="225.3" cy="247.8" r="6.12" fill="#1f77b4"/>
<circle cx="220.6" cy="259.0" r="6.12" fill="#1f77b4"/>
<circle cx="232.7" cy="258.0" r="6.12" fill="#1f77b4"/>
<circle cx="246.0" cy="250.0" r="8.72" fill="#1f77b4"/>
<circle cx="260.5" cy="245.9" r="6.12" fill="#1f77b4"/>
<circle cx="260.0" cy="257.9" r="6.12" fill="#1f77b4"/>
<circle cx="275.4" cy="257.6" r="8.72" fill="#1f77b4"/>
<circle cx="272.4" cy="243.2" r="6.12" fill="#1f77b4"/>
<circle cx="287.4" cy="246.0" r="7.42" fill="#1f77b4"/>
<circle cx="288.3" cy="264.5" r="6.12" fill="#1f77b4"/>
<circle cx="198.3" cy="267.3" r="10.58" fill="#1f77b4"/>
<circle cx="214.7" cy="270.6" r="6.12" fill="#1f77b4"/>
<circle cx="227.1" cy="269.9" r="6.12" fill="#1f77b4"/>
<circle cx="245.0" cy="270.8" r="10.58" fill="#1f77b4"/>
<circle cx="264.2" cy="272.0" r="8.72" fill="#1f77b4"/>
<circle cx="279.6" cy="272.9" r="6.12" fill="#1f77b4"/>
<circle cx="192.8" cy="283.1" r="6.12" fill="#1f77b4"/>
<circle cx="207.6" cy="284.0" r="8.72" fill="#1f77b4"/>
<circle cx="225.3" cy="284.5" r="8.72" fill="#1f77b4"/>
<circle cx="240.1" cy="287.7" r="6.12" fill="#1f77b4"/>
<circle cx="255.1" cy="287.1" r="8.72" fill="#1f77b4"/>
<circle cx="270.3" cy="285.9" r="6.12" fill="#1f77b4"/>
<circle cx="282.4" cy="284.9" r="6.12" fill="#1f77b4"/>
<circle cx="195.6" cy="301.6" r="12.43" fill="#1f77b4"/>
<circle cx="215.4" cy="297.0" r="6.12" fill="#1f77b4"/>
<circle cx="232.3" cy="297.9" r="6.12" fill="#1f77b4"/>
<circle cx="245.1" cy="298.8" r="6.12" fill="#1f77b4"/>
<circle cx="257.2" cy="302.6" r="6.12" fill="#1f77b4"/>
<circle cx="271.6" cy="299.8" r="7.42" fill="#1f77b4"/>
<circle cx="286.5" cy="297.0" r="6.12" fill="#1f77b4"/>
<circle cx="223.4" cy="306.6" r="6.12" fill="#1f77b4"/>
<circle cx="235.5" cy="310.0" r="6.12" fill="#1f77b4"/>
<circle cx="248.3" cy="311.3" r="6.12" fill="#1f77b4"/>
<circle cx="263.1" cy="313.5" r="6.12" fill="#1f77b4"/>
<circle cx="285.5" cy="309.0" r="6.12" fill="#1f77b4"/>
<circle cx="211.9" cy="316.5" r="8.72" fill="#1f77b4"/>
<circle cx="277.1" cy="321.1" r="8.72" fill="#1f77b4"/>
<circle cx="254.3" cy="321.8" r="6.12" fill="#1f77b4"/>
<circle cx="194.6" cy="323.9" r="7.42" fill="#1f77b4"/>
<circle cx="206.7" cy="330.4" r="6.12" fill="#1f77b4"/>
<circle cx="264.2" cy="330.4" r="6.12" fill="#1f77b4"/>
<circle cx="232.7" cy="335.9" r="19.48" fill="#1f77b4"/>
<circle cx="282.8" cy="340.9" r="10.58" fill="#1f77b4"/>
</g>
<text x="237.1" y="149.6" fill="#fff" text-anchor="middle">Sports</text><text x="237.1" y="161.3" fill="#fff" text-anchor="middle">EA</text><text x="307.1" y="170" fill="#fff" text-anchor="middle">Sports</text><text x="307.1" y="181.7" fill="#fff" text-anchor="middle">EA</text><text x="345.9" y="235.5" fill="#fff" text-anchor="middle">Action</text><text x="365.1" y="384.2" fill="#fff" text-anchor="middle">Sports</text><text x="81.6" y="346.9" fill="#000" text-anchor="middle">Misc</text><text x="335.7" y="461.5" fill="#000" text-anchor="middle">Misc</text>
</svg>
<div id="lt">genre</div>
<div class="sw" style="top:111px;background:#1f77b4"></div><div class="ll" style="top:111px">Action</div><div class="sw" style="top:131px;background:#8c564b"></div><div class="ll" style="top:131px">Sports</div><div class="sw" style="top:151px;background:#9467bd"></div><div class="ll" style="top:151px">Shooter</div><div class="sw" style="top:171px;background:#ffbb78"></div><div class="ll" style="top:171px">Misc</div><div class="sw" style="top:191px;background:#ff9896"></div><div class="ll" style="top:191px">Role-Playing</div><div class="sw" style="top:211px;background:#aec7e8"></div><div class="ll" style="top:211px">Adventure</div><div class="sw" style="top:231px;background:#d62728"></div><div class="ll" style="top:231px">Racing</div><div class="sw" style="top:251px;background:#ff7f0e"></div><div class="ll" style="top:251px">Fighting</div><div class="sw" style="top:271px;background:#2ca02c"></div><div class="ll" style="top:271px">Platform</div><div class="sw" style="top:291px;background:#c5b0d5"></div><div class="ll" style="top:291px">Simulation</div><div class="sw" style="top:311px;background:#c49c94"></div><div class="ll" style="top:311px">Strategy</div><div class="sw" style="top:331px;background:#98df8a"></div><div class="ll" style="top:331px">Puzzle</div>
<div id="info">PS3
N: 1090
#Nodes:620
Avg Games
   per Dev
   per Genre: 1.75
Sorted by:
   #Titles per Genre</div>
</body></html>
